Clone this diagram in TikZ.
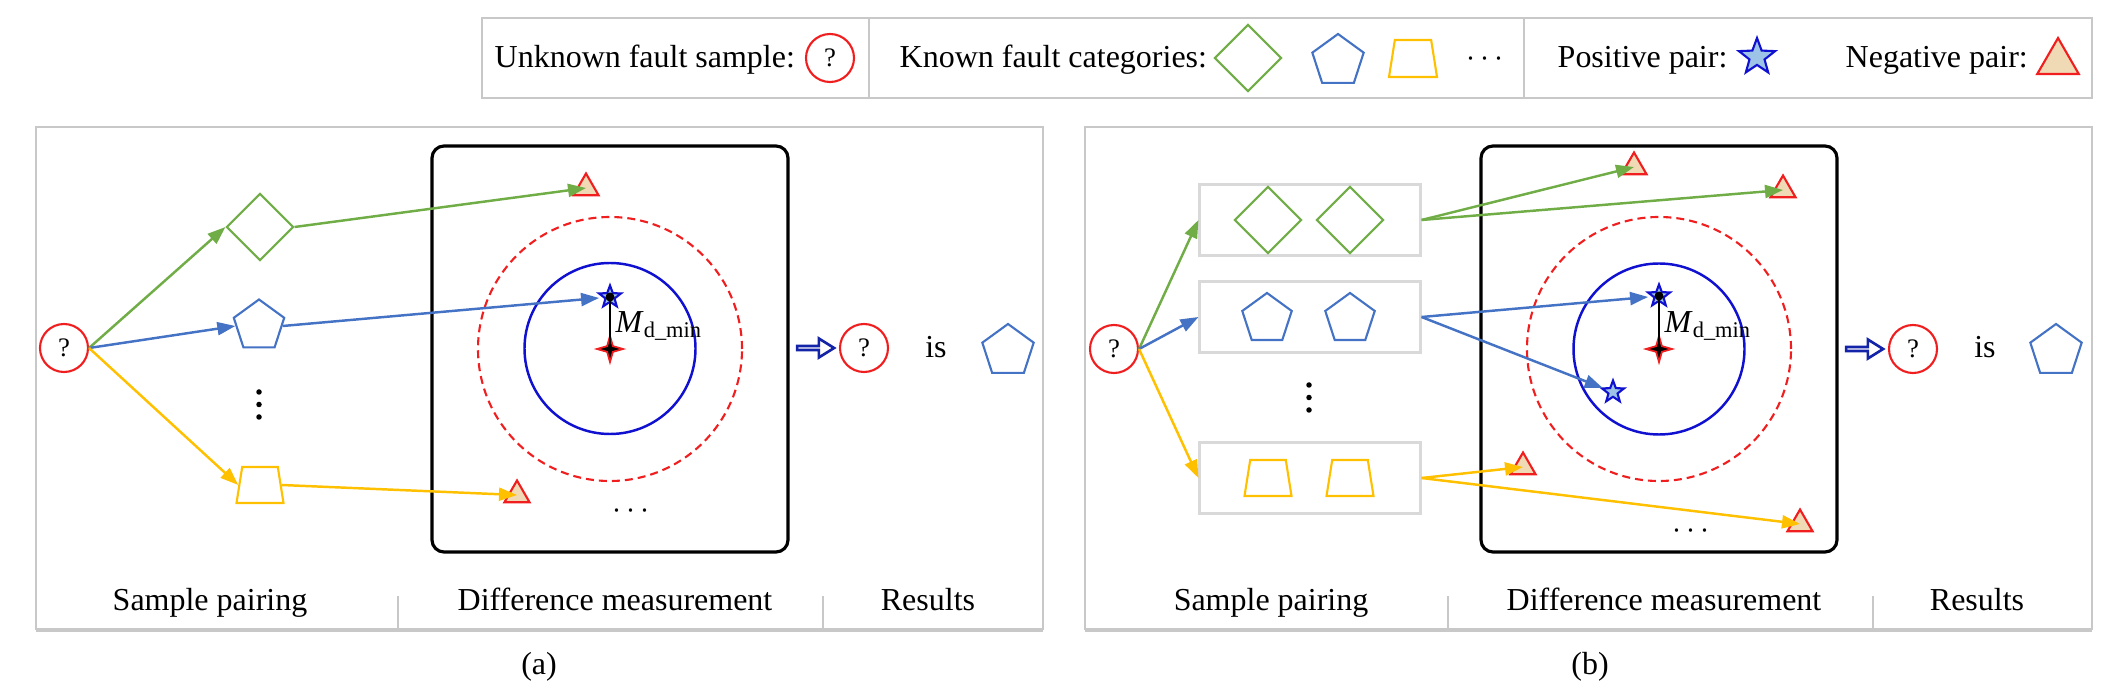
\documentclass[tikz,border=0pt]{standalone}
\usepackage{fontspec}
\setmainfont{Liberation Serif}
\usetikzlibrary{positioning,arrows.meta,shapes.geometric,shapes.arrows}
\definecolor{fdgreen}{HTML}{70AD47}
\definecolor{fdblue}{HTML}{4472C4}
\definecolor{fdyellow}{HTML}{FFC000}
\definecolor{fdred}{HTML}{F01E1E}
\definecolor{fdring}{HTML}{1010D0}
\definecolor{fdnavy}{HTML}{1424A8}
\definecolor{fdtan}{HTML}{F0D9B5}
\definecolor{fdsky}{HTML}{9DC3E6}
\definecolor{fdframe}{HTML}{C8C8C8}
\definecolor{fdgrouprule}{HTML}{D9D9D9}
\tikzset{
  fdsample/.style={circle, draw=fdred, line width=0.6pt, minimum size=4.8mm, inner sep=0pt,
                   font=\fontsize{7.6}{8}\selectfont},
  fdrhomb/.style={diamond, draw=fdgreen, line width=0.6pt, minimum width=6.7mm, minimum height=6.7mm, inner sep=0pt},
  fdpent/.style={regular polygon, regular polygon sides=5, draw=fdblue, line width=0.6pt,
                 minimum size=5.3mm, inner sep=0pt},
  fdtrap/.style={trapezium, trapezium angle=81, draw=fdyellow, line width=0.6pt,
                 inner xsep=1.78mm, inner ysep=1.8mm},
  fdneg/.style={regular polygon, regular polygon sides=3, draw=fdred, fill=fdtan, line width=0.6pt,
                minimum size=2.9mm, inner sep=0pt},
  fdpos/.style={star, star points=5, star point ratio=2.4, draw=fdring, fill=fdsky, line width=0.6pt,
                minimum size=2.3mm, inner sep=0pt},
  fdcentre/.style={star, star points=4, star point ratio=3.2, draw=fdred, fill=black, line width=0.5pt,
                   minimum size=2.6mm, inner sep=0pt},
  fddot/.style={circle, fill=black, minimum size=0.9mm, inner sep=0pt},
  fdvdot/.style={circle, fill=black, minimum size=0.55mm, inner sep=0pt},
  fdbox/.style={draw=black, rounded corners=1.2mm, line width=0.9pt, minimum width=35.6mm, minimum height=40.6mm},
  fdouter/.style={circle, draw=fdred, dash pattern=on 0.8mm off 0.5mm, line width=0.6pt, minimum size=26.4mm},
  fdinner/.style={circle, draw=fdring, line width=0.7pt, minimum size=17.1mm},
  fdgroup/.style={draw=fdgrouprule, line width=0.6pt, minimum width=22.1mm, minimum height=7.1mm, inner sep=0pt},
  fdresult/.style={single arrow, draw=fdnavy, fill=white, line width=0.75pt, minimum width=1.9mm,
                   minimum height=3.7mm, single arrow head extend=0.5mm, single arrow tip angle=64,
                   inner sep=0pt},
  fdtext/.style={font=\fontsize{9.1}{11}\selectfont, inner sep=0pt},
  fdseta/.style={-{Triangle[length=1.8mm,width=1.3mm]}, line width=0.7pt},
}
\begin{document}
\begin{tikzpicture}[
    fdleg/.style={fdtext, anchor=base west},
    fdcap/.style={fdtext, anchor=base},
    fdrule/.style={draw=fdframe, line width=0.6pt},
    fdshade/.style={draw=fdframe, line width=1.3pt},
    fdradius/.style={draw=black, line width=0.6pt}
  ]
  \useasboundingbox (0,0) rectangle (21.27,-6.99);
  \draw[fdrule] (4.82,-0.18) rectangle (20.92,-0.98);
  \draw[fdrule] (8.69,-0.18) -- (8.69,-0.98);
  \draw[fdrule] (15.24,-0.18) -- (15.24,-0.98);
  \node[fdleg] (lt1) at (4.94,-0.68) {Unknown fault sample:};
  \node[fdsample] (lq) at (8.30,-0.58) {?};
  \node[fdleg] (lt2) at (8.99,-0.68) {Known fault categories:};
  \node[fdrhomb] (lrh) at (12.48,-0.58) {};
  \node[fdpent, minimum size=5.4mm] (lpt) at (13.38,-0.61) {};
  \node[fdtrap, inner xsep=1.815mm, inner ysep=1.85mm] (ltp) at (14.13,-0.585) {};
  \node[fdtext] (ldt) at (14.85,-0.59) {$\cdots$};
  \node[fdleg] (lt3) at (15.57,-0.68) {Positive pair:};
  \node[fdpos, minimum size=3.8mm] (lps) at (17.57,-0.57) {};
  \node[fdleg] (lt4) at (18.45,-0.68) {Negative pair:};
  \node[fdneg, minimum size=4.8mm] (lng) at (20.58,-0.62) {};

  \draw[fdrule] (0.36,-1.27) rectangle (10.43,-6.29);
  \draw[fdshade] (0.36,-6.30) -- (10.43,-6.30);
  \draw[fdrule] (3.98,-5.96) -- (3.98,-6.29);
  \draw[fdrule] (8.23,-5.96) -- (8.23,-6.29);
  \node[fdbox] (df1) at (6.10,-3.49) {};
  \node[fdouter] (ro1) at (6.10,-3.49) {};
  \node[fdinner] (ri1) at (6.10,-3.485) {};
  \node[fdsample] (q1) at (0.64,-3.48) {?};
  \node[fdrhomb] (rh1) at (2.60,-2.27) {};
  \node[fdpent] (pt1) at (2.59,-3.26) {};
  \node[fdvdot] (va1) at (2.59,-3.92) {};
  \node[fdvdot] (va2) at (2.59,-4.045) {};
  \node[fdvdot] (va3) at (2.59,-4.17) {};
  \node[fdtrap] (tp1) at (2.60,-4.85) {};
  \node[fdneg] (ng1) at (5.86,-1.88) {};
  \node[fdneg] (ng2) at (5.17,-4.95) {};
  \node[fdpos] (ps1) at (6.10,-2.97) {};
  \node[fdcentre] (mc1) at (6.10,-3.49) {};
  \node[fdtext, anchor=base west] (md1) at (6.15,-3.33) {\textit{M}\textsubscript{d\_min}};
  \node[fdtext] (hd1) at (6.31,-5.11) {$\cdots$};
  \draw[fdseta, fdgreen] (q1.east) -- (rh1.west);
  \draw[fdseta, fdblue] (q1.east) -- (pt1.west);
  \draw[fdseta, fdyellow] (q1.east) -- (tp1.west);
  \draw[fdseta, fdgreen] (rh1.east) -- (ng1.center);
  \draw[fdseta, fdblue, shorten >=1.1mm] (pt1.east) -- (ps1.center);
  \draw[fdseta, fdyellow] (tp1.east) -- (ng2.center);
  \draw[fdradius] (ps1.center) -- (mc1.center);
  \node[fddot] (pd1) at (ps1.center) {};
  \node[fdresult] (ha1) at (8.14,-3.48) {};
  \node[fdsample] (q1r) at (8.64,-3.48) {?};
  \node[fdcap] (is1) at (9.36,-3.58) {is};
  \node[fdpent, minimum size=5.4mm] (pt1r) at (10.08,-3.51) {};
  \node[fdcap] (ca1) at (2.10,-6.11) {Sample pairing};
  \node[fdcap] (ca2) at (6.15,-6.11) {Difference measurement};
  \node[fdcap] (ca3) at (9.28,-6.11) {Results};
  \node[fdcap] (sa) at (5.39,-6.74) {(a)};

  \draw[fdrule] (10.85,-1.27) rectangle (20.92,-6.29);
  \draw[fdshade] (10.85,-6.30) -- (20.92,-6.30);
  \draw[fdrule] (14.48,-5.96) -- (14.48,-6.29);
  \draw[fdrule] (18.73,-5.96) -- (18.73,-6.29);
  \node[fdbox] (df2) at (16.59,-3.49) {};
  \node[fdouter] (ro2) at (16.59,-3.49) {};
  \node[fdinner] (ri2) at (16.59,-3.49) {};
  \node[fdsample] (q2) at (11.14,-3.49) {?};
  \node[fdgroup] (gb) at (13.10,-2.20) {};
  \node[fdgroup] (bb) at (13.10,-3.17) {};
  \node[fdgroup] (yb) at (13.10,-4.78) {};
  \node[fdrhomb] (rh2) at (12.68,-2.20) {};
  \node[fdrhomb] (rh3) at (13.50,-2.20) {};
  \node[fdpent, minimum size=5.2mm] (pt2) at (12.67,-3.19) {};
  \node[fdpent, minimum size=5.2mm] (pt3) at (13.50,-3.19) {};
  \node[fdvdot] (vb1) at (13.09,-3.85) {};
  \node[fdvdot] (vb2) at (13.09,-3.975) {};
  \node[fdvdot] (vb3) at (13.09,-4.10) {};
  \node[fdtrap] (tp2) at (12.68,-4.78) {};
  \node[fdtrap] (tp3) at (13.50,-4.78) {};
  \node[fdneg] (ng3) at (16.34,-1.67) {};
  \node[fdneg] (ng4) at (17.83,-1.90) {};
  \node[fdneg] (ng5) at (15.23,-4.67) {};
  \node[fdneg] (ng6) at (18.00,-5.24) {};
  \node[fdpos] (ps2) at (16.59,-2.96) {};
  \node[fdpos] (ps3) at (16.13,-3.92) {};
  \node[fdcentre] (mc2) at (16.59,-3.49) {};
  \node[fdtext, anchor=base west] (md2) at (16.64,-3.33) {\textit{M}\textsubscript{d\_min}};
  \node[fdtext] (hd2) at (16.91,-5.31) {$\cdots$};
  \draw[fdseta, fdgreen] (q2.east) -- (gb.west);
  \draw[fdseta, fdblue] (q2.east) -- (bb.west);
  \draw[fdseta, fdyellow] (q2.east) -- (yb.west);
  \draw[fdseta, fdgreen] (gb.east) -- (ng3.center);
  \draw[fdseta, fdgreen] (gb.east) -- (ng4.center);
  \draw[fdseta, fdblue, shorten >=1.1mm] (bb.east) -- (ps2.center);
  \draw[fdseta, fdblue, shorten >=1.1mm] (bb.east) -- (ps3.center);
  \draw[fdseta, fdyellow] (yb.east) -- (ng5.center);
  \draw[fdseta, fdyellow] (yb.east) -- (ng6.center);
  \draw[fdradius] (ps2.center) -- (mc2.center);
  \node[fddot] (pd2) at (ps2.center) {};
  \node[fdresult] (ha2) at (18.63,-3.49) {};
  \node[fdsample] (q2r) at (19.13,-3.49) {?};
  \node[fdcap] (is2) at (19.85,-3.58) {is};
  \node[fdpent, minimum size=5.4mm] (pt2r) at (20.56,-3.51) {};
  \node[fdcap] (cb1) at (12.71,-6.11) {Sample pairing};
  \node[fdcap] (cb2) at (16.64,-6.11) {Difference measurement};
  \node[fdcap] (cb3) at (19.77,-6.11) {Results};
  \node[fdcap] (sb) at (15.90,-6.74) {(b)};
\end{tikzpicture}
\end{document}
